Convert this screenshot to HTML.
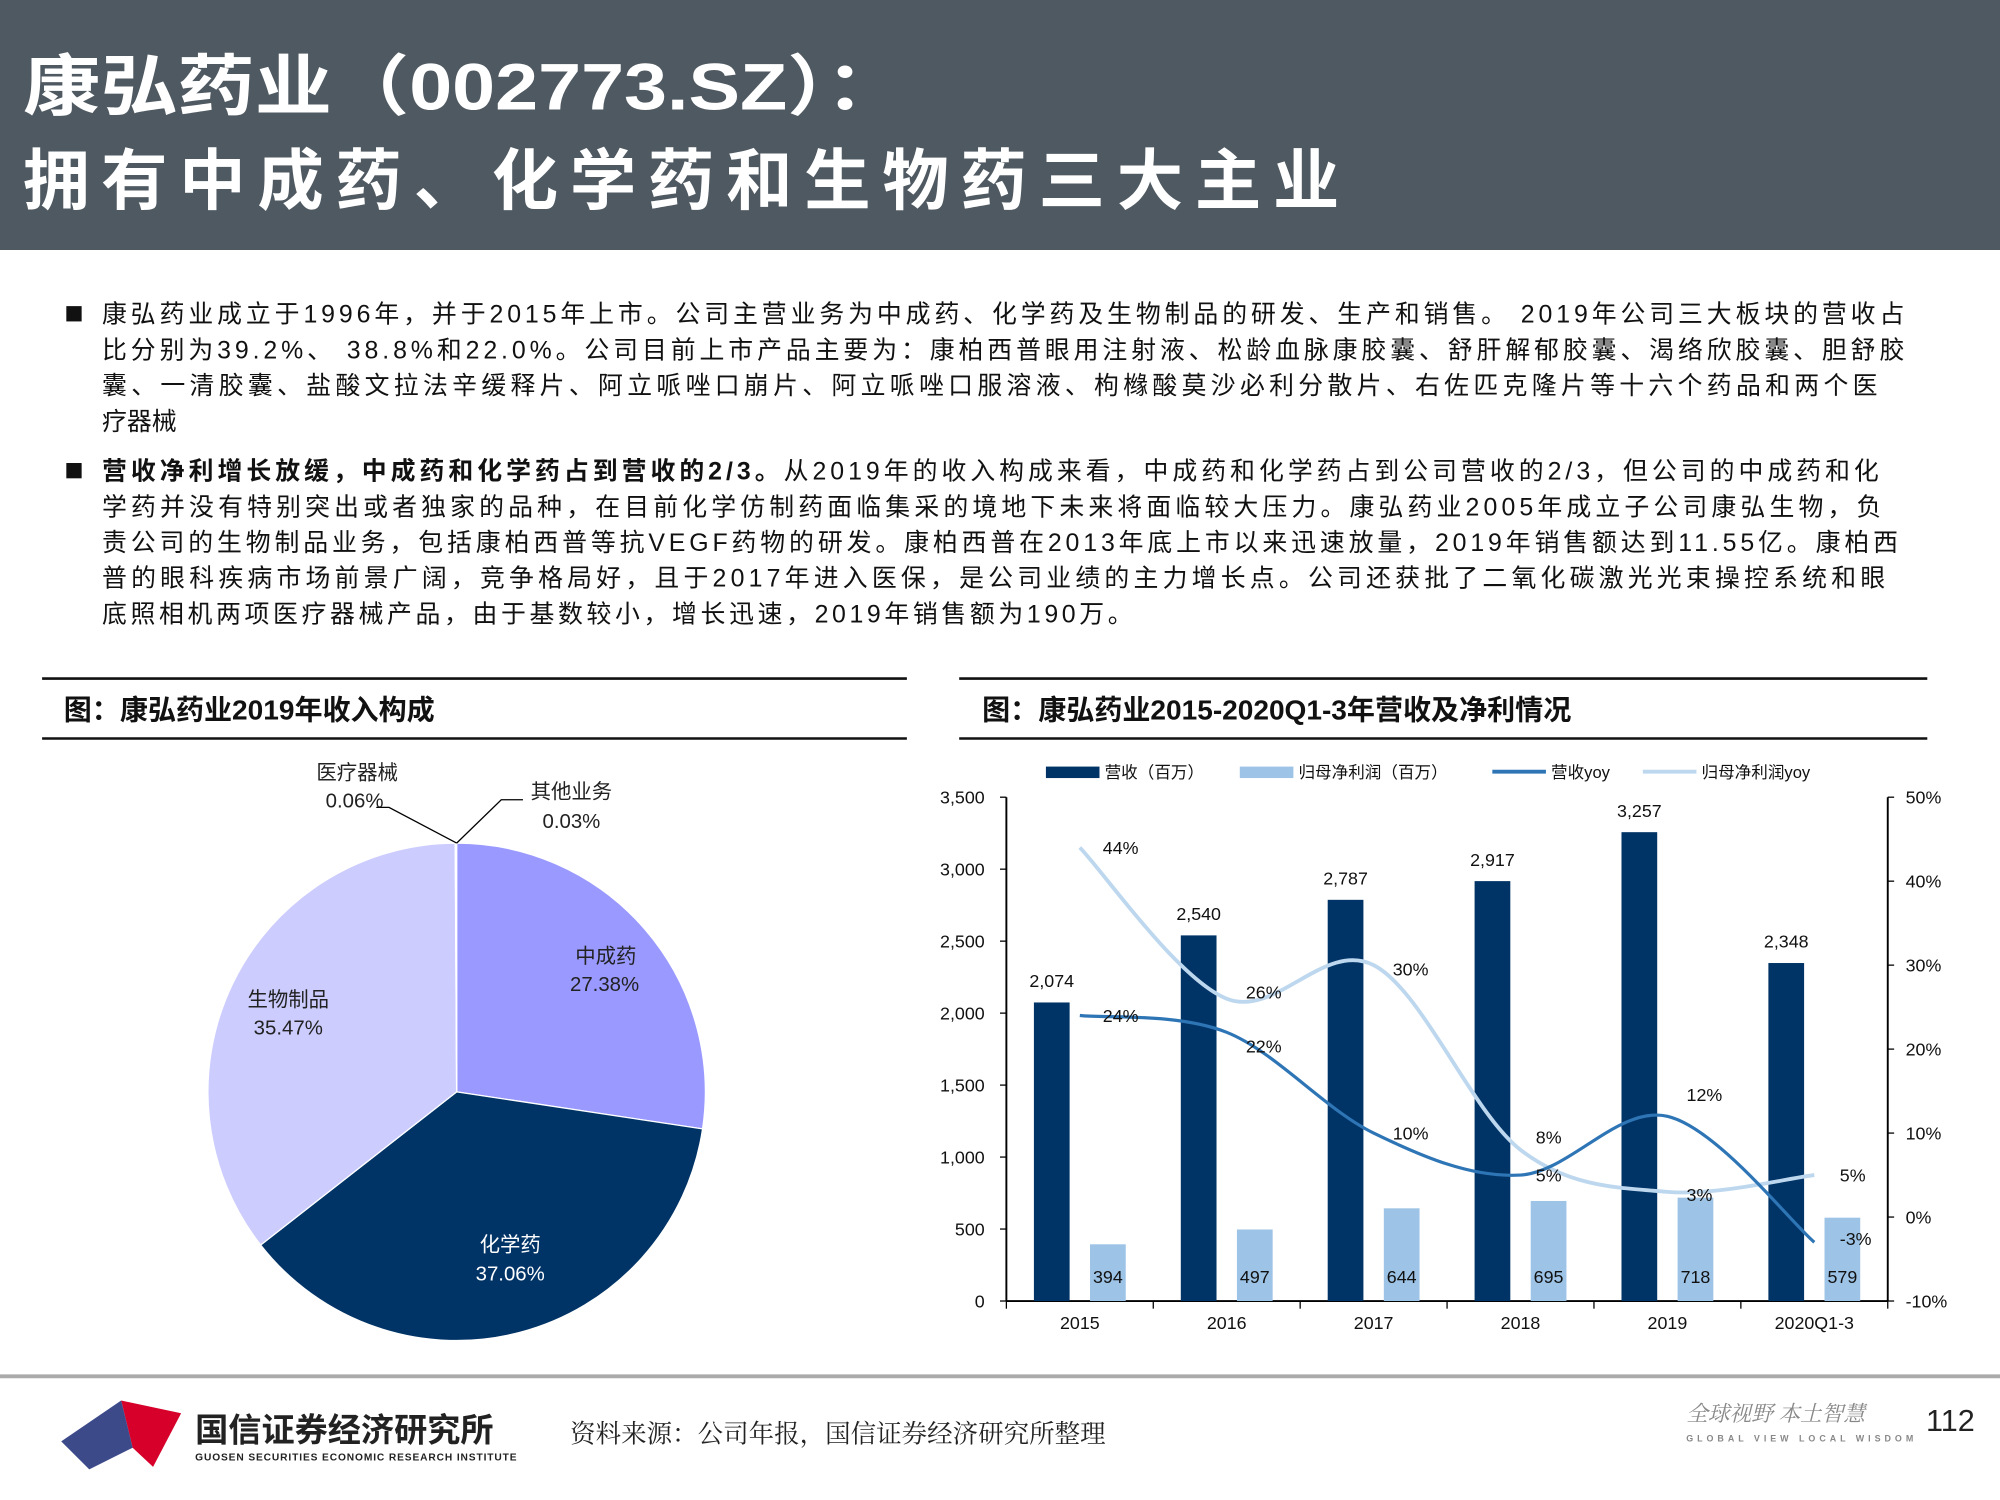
<!DOCTYPE html>
<html><head><meta charset="utf-8"><style>
html,body{margin:0;padding:0;background:#fff}
svg{display:block}
text{font-family:"Liberation Sans","Noto Sans CJK SC",sans-serif}
.serif{font-family:"Liberation Serif","Noto Serif CJK SC",serif}
</style></head><body>
<svg id="root" width="2000" height="1500" viewBox="0 0 1568 1176" preserveAspectRatio="none">
<rect x="0" y="0" width="1568" height="196" fill="#4f5961"/>
<text x="18" y="86" fill="#fff" font-size="52" font-weight="bold" textLength="690" lengthAdjust="spacingAndGlyphs" style="font-family:'Liberation Sans','Noto Sans CJK SC',sans-serif">康弘药业（002773.SZ）：</text>
<text x="18" y="160" fill="#fff" font-size="52" font-weight="bold" textLength="1032" style="font-family:'Liberation Sans','Noto Sans CJK SC',sans-serif">拥有中成药、化学药和生物药三大主业</text>

<g font-size="19.5" fill="#111" class="serif">
<rect x="52" y="240" width="12" height="12" fill="#111"/>
<text x="80" y="253" textLength="1413">康弘药业成立于1996年，并于2015年上市。公司主营业务为中成药、化学药及生物制品的研发、生产和销售。 2019年公司三大板块的营收占</text>
<text x="80" y="281" textLength="1413">比分别为39.2%、 38.8%和22.0%。公司目前上市产品主要为：康柏西普眼用注射液、松龄血脉康胶囊、舒肝解郁胶囊、渴络欣胶囊、胆舒胶</text>
<text x="80" y="309" textLength="1392">囊、一清胶囊、盐酸文拉法辛缓释片、阿立哌唑口崩片、阿立哌唑口服溶液、枸橼酸莫沙必利分散片、右佐匹克隆片等十六个药品和两个医</text>
<text x="80" y="337">疗器械</text>
<rect x="52" y="363" width="12" height="12" fill="#111"/>
<text x="80" y="376" textLength="1393"><tspan font-weight="bold">营收净利增长放缓，中成药和化学药占到营收的2/3。</tspan>从2019年的收入构成来看，中成药和化学药占到公司营收的2/3，但公司的中成药和化</text>
<text x="80" y="404" textLength="1395">学药并没有特别突出或者独家的品种，在目前化学仿制药面临集采的境地下未来将面临较大压力。康弘药业2005年成立子公司康弘生物，负</text>
<text x="80" y="432" textLength="1408">责公司的生物制品业务，包括康柏西普等抗VEGF药物的研发。康柏西普在2013年底上市以来迅速放量，2019年销售额达到11.55亿。康柏西</text>
<text x="80" y="460" textLength="1398">普的眼科疾病市场前景广阔，竞争格局好，且于2017年进入医保，是公司业绩的主力增长点。公司还获批了二氧化碳激光光束操控系统和眼</text>
<text x="80" y="488" textLength="808">底照相机两项医疗器械产品，由于基数较小，增长迅速，2019年销售额为190万。</text>
</g>

<line x1="33" y1="532" x2="711" y2="532" stroke="#111" stroke-width="2"/>
<line x1="33" y1="579" x2="711" y2="579" stroke="#111" stroke-width="2"/>
<text x="50" y="564" font-size="22" font-weight="bold" fill="#111">图：康弘药业2019年收入构成</text>
<line x1="752" y1="532" x2="1511" y2="532" stroke="#111" stroke-width="2"/>
<line x1="752" y1="579" x2="1511" y2="579" stroke="#111" stroke-width="2"/>
<text x="770" y="564" font-size="22" font-weight="bold" fill="#111">图：康弘药业2015-2020Q1-3年营收及净利情况</text>

<g id="pie"></g>
<g id="bar"></g>

<line x1="0" y1="1079" x2="1568" y2="1079" stroke="#aaa" stroke-width="3"/>
<g>
<path d="M95 1098 L142 1108 L120 1150 L104 1135 Z" fill="#d6002a"/>
<path d="M95 1098 L48 1130 L70 1152 L104 1135 Z" fill="#3c4a8a"/>
</g>
<text x="153" y="1130" font-size="26" font-weight="bold" fill="#222">国信证券经济研究所</text>
<text x="153" y="1145" font-size="8" font-weight="bold" fill="#222" textLength="252">GUOSEN SECURITIES ECONOMIC RESEARCH INSTITUTE</text>
<text x="447" y="1131" font-size="20" fill="#222" class="serif">资料来源：公司年报，国信证券经济研究所整理</text>
<text x="1322" y="1114" font-size="17" fill="#888" font-style="italic" class="serif">全球视野 本土智慧</text>
<text x="1322" y="1130" font-size="7" fill="#888" font-weight="bold" textLength="178">GLOBAL VIEW  LOCAL WISDOM</text>
<text x="1510" y="1122" font-size="24" fill="#222">112</text>
</svg>
<script>
const NS="http://www.w3.org/2000/svg";
const pieLabels=["中成药","化学药","生物制品","医疗器械","其他业务"];
const pieValues=[27.38,37.06,35.47,0.06,0.03];
const pieColors=["#9999ff","#003366","#ccccff","#ccccff","#ccccff"];
const years=["2015","2016","2017","2018","2019","2020Q1-3"];
const revenue=[2074,2540,2787,2917,3257,2348];
const profit=[394,497,644,695,718,579];
const revYoy=[24,22,10,5,12,-3];
const profitYoy=[44,26,30,8,3,5];
const leftTicks=[0,500,1000,1500,2000,2500,3000,3500];
const rightTicks=[-10,0,10,20,30,40,50];

function mk(tag,attrs,parent,txt){const e=document.createElementNS(NS,tag);for(const k in attrs)e.setAttribute(k,attrs[k]);if(txt!==undefined)e.textContent=txt;parent.appendChild(e);return e;}

// Pie
const pie=document.getElementById('pie');
const cx=358,cy=856,R=195;
const tot=pieValues.reduce((a,b)=>a+b,0);
let acc=0;
const labelPos=[[475,755,474,777],[400,981,400,1004],[226,789,226,811]];
pieValues.forEach((v,i)=>{
  const a0=acc/tot*2*Math.PI; acc+=v; const a1=acc/tot*2*Math.PI;
  const x0=cx+R*Math.sin(a0),y0=cy-R*Math.cos(a0),x1=cx+R*Math.sin(a1),y1=cy-R*Math.cos(a1);
  const large=(a1-a0)>Math.PI?1:0;
  const p=mk('path',{d:`M${cx},${cy} L${x0},${y0} A${R},${R} 0 ${large} 1 ${x1},${y1} Z`,fill:pieColors[i],stroke:'#fff','stroke-width':1},pie);
  
  
  if(i<3){
    const lp=labelPos[i];const col=i===1?'#fff':'#222';
    const t1=mk('text',{x:lp[0],y:lp[1],'font-size':16,fill:col,'text-anchor':'middle'},pie,pieLabels[i]);
    
    
    const t2=mk('text',{x:lp[2],y:lp[3],'font-size':16,fill:col,'text-anchor':'middle'},pie,pieValues[i].toFixed(2)+'%');
    
    
  }
});
mk('polyline',{points:`${cx},${cy-R} 305,633 295,633`,fill:'none',stroke:'#000','stroke-width':1},pie);
mk('polyline',{points:`${cx},${cy-R} 393,627 410,627`,fill:'none',stroke:'#000','stroke-width':1},pie);
[[280,611,'医疗器械'],[278,633,pieValues[3].toFixed(2)+'%'],[448,626,'其他业务'],[448,649,pieValues[4].toFixed(2)+'%']].forEach((d,i)=>{
  const t=mk('text',{x:d[0],y:d[1],'font-size':16,fill:'#222','text-anchor':'middle'},pie,d[2]);
  
  
});

// Bar chart
const bar=document.getElementById('bar');
const L=789,Rr=1480,Y0=1020,Ytop=625;
const yL=v=>Y0-(v/3500)*(Y0-Ytop);
const yR=v=>Y0-((v+10)/60)*(Y0-Ytop);
const bw=(Rr-L)/years.length;
const xc=i=>L+bw*(i+0.5);
mk('line',{x1:L,y1:Ytop,x2:L,y2:Y0,stroke:'#000','stroke-width':1.5},bar);
mk('line',{x1:Rr,y1:Ytop,x2:Rr,y2:Y0,stroke:'#000','stroke-width':1.5},bar);
mk('line',{x1:L,y1:Y0,x2:Rr,y2:Y0,stroke:'#000','stroke-width':1.5},bar);
leftTicks.forEach(v=>{
  mk('line',{x1:L-5,y1:yL(v),x2:L,y2:yL(v),stroke:'#000'},bar);
  const t=mk('text',{x:772,y:yL(v)+5,'font-size':14,'text-anchor':'end',fill:'#111'},bar,v.toLocaleString('en-US'));
  
  
});
rightTicks.forEach(v=>{
  mk('line',{x1:Rr,y1:yR(v),x2:Rr+5,y2:yR(v),stroke:'#000'},bar);
  const t=mk('text',{x:1494,y:yR(v)+5,'font-size':14,fill:'#111'},bar,v+'%');
  
  
});
for(let i=0;i<=years.length;i++)mk('line',{x1:L+bw*i,y1:Y0,x2:L+bw*i,y2:Y0+6,stroke:'#000'},bar);
years.forEach((y,i)=>{
  const t=mk('text',{x:xc(i),y:1042,'font-size':14,'text-anchor':'middle',fill:'#111'},bar,y);
  
  
  const r1=mk('rect',{x:xc(i)-36,y:yL(revenue[i]),width:28,height:Y0-yL(revenue[i]),fill:'#003366'},bar);
  
  
  const r2=mk('rect',{x:xc(i)+8,y:yL(profit[i]),width:28,height:Y0-yL(profit[i]),fill:'#9dc3e6'},bar);
  
  
  const t1=mk('text',{x:xc(i)-22,y:yL(revenue[i])-12,'font-size':14,'text-anchor':'middle',fill:'#111'},bar,revenue[i].toLocaleString('en-US'));
  
  
  const t2=mk('text',{x:xc(i)+22,y:1006,'font-size':14,'text-anchor':'middle',fill:'#111'},bar,profit[i]);
  
  
});
function smooth(pts){
  let d=`M${pts[0][0]},${pts[0][1]}`;
  for(let i=0;i<pts.length-1;i++){
    const p0=pts[i-1]||pts[i],p1=pts[i],p2=pts[i+1],p3=pts[i+2]||p2;
    const c1=[p1[0]+(p2[0]-p0[0])/6,p1[1]+(p2[1]-p0[1])/6],c2=[p2[0]-(p3[0]-p1[0])/6,p2[1]-(p3[1]-p1[1])/6];
    d+=` C${c1[0]},${c1[1]} ${c2[0]},${c2[1]} ${p2[0]},${p2[1]}`;
  }
  return d;
}
const lp=mk('path',{d:smooth(profitYoy.map((v,i)=>[xc(i),yR(v)])),fill:'none',stroke:'#bdd7ee','stroke-width':3},bar);


const lr=mk('path',{d:smooth(revYoy.map((v,i)=>[xc(i),yR(v)])),fill:'none',stroke:'#2e75b6','stroke-width':2.5},bar);


const revOff=[[18,5],[15,16],[15,5],[12,5],[15,-12],[20,2]];
const proOff=[[18,5],[15,0],[15,8],[12,-5],[15,7],[20,5]];
revYoy.forEach((v,i)=>{const t=mk('text',{x:xc(i)+revOff[i][0],y:yR(v)+revOff[i][1],'font-size':14,fill:'#111'},bar,v+'%');
  
  });
profitYoy.forEach((v,i)=>{const t=mk('text',{x:xc(i)+proOff[i][0],y:yR(v)+proOff[i][1],'font-size':14,fill:'#111'},bar,v+'%');
  
  });
// Legend
const lg=mk('g',{},bar);


mk('rect',{x:820,y:601,width:42,height:9,fill:'#003366'},lg);
mk('text',{x:866,y:610,'font-size':13,fill:'#111'},lg,'营收（百万）');
mk('rect',{x:972,y:601,width:42,height:9,fill:'#9dc3e6'},lg);
mk('text',{x:1018,y:610,'font-size':13,fill:'#111'},lg,'归母净利润（百万）');
mk('line',{x1:1170,y1:605,x2:1212,y2:605,stroke:'#2e75b6','stroke-width':3},lg);
mk('text',{x:1216,y:610,'font-size':13,fill:'#111'},lg,'营收yoy');
mk('line',{x1:1288,y1:605,x2:1330,y2:605,stroke:'#bdd7ee','stroke-width':3},lg);
mk('text',{x:1334,y:610,'font-size':13,fill:'#111'},lg,'归母净利润yoy');
</script>
</body></html>
